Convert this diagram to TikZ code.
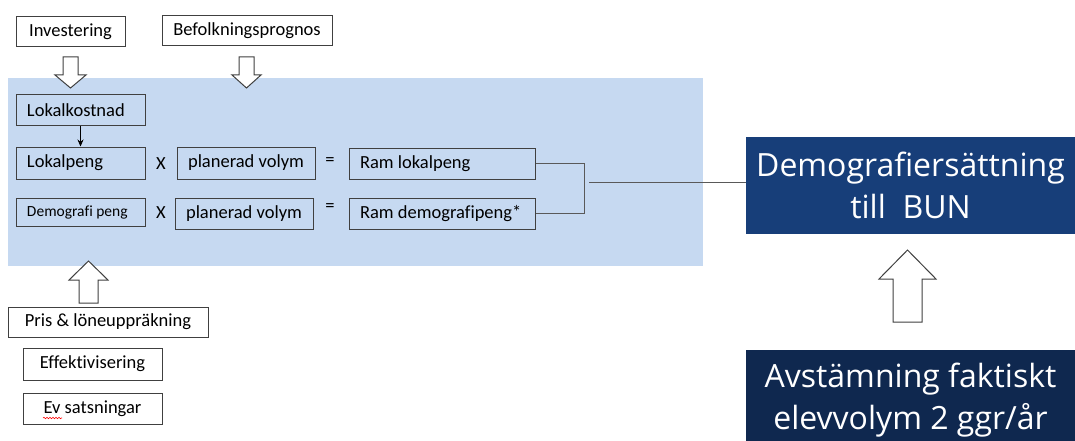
\documentclass[tikz,border=0pt]{standalone}
\usepackage{fontspec}
\setmainfont[Ligatures=NoCommon]{Carlito}
\newfontfamily\bigfont{Open Sans}
\usetikzlibrary{arrows.meta,decorations.pathmorphing}
\definecolor{bgblue}{HTML}{C6D9F1}
\definecolor{navyA}{HTML}{173E79}
\definecolor{navyB}{HTML}{0F284F}
\definecolor{edgec}{HTML}{404040}
\definecolor{linec}{HTML}{595959}
\newcommand\lefttext[2]{\makebox[#1][l]{#2}}
\begin{document}
\begin{tikzpicture}[x=1pt,y=-1pt,
  box/.style={draw=edgec, line width=1pt, inner sep=0pt, font=\fontsize{18.5}{22}\selectfont},
  lbox/.style={box, inner xsep=11pt},
  cbox/.style={box, align=center, minimum width=#1},
  op/.style={font=\fontsize{18.5}{22}\selectfont, inner sep=0pt},
  harrow/.style={draw=edgec, fill=white, line width=1pt, line join=miter},
  bigbox/.style={inner sep=0pt, text=white, align=center, font=\bigfont\fontsize{32}{42}\selectfont},
  link/.style={draw=linec, line width=1pt}]
\useasboundingbox (0,0) rectangle (1075,441);
\clip (0,0) rectangle (1075,441);
% background panel
\fill[bgblue] (8,78) rectangle (703,266);
% top inputs
\node[cbox=109, minimum height=30] (inv) at (70.5,32) {Investering};
\node[cbox=170, minimum height=30] (bef) at (247,31) {Befolkningsprognos};
\draw[harrow] (63,57) -- (78,57) -- (78,75) -- (86,75) -- (70.5,88) -- (55,75) -- (63,75) -- cycle;
\draw[harrow] (239,57) -- (254,57) -- (254,75) -- (261,75) -- (246.5,88) -- (232,75) -- (239,75) -- cycle;
% row boxes
\node[lbox, minimum height=31] (lk) at (80.5,110) {\lefttext{107pt}{Lokalkostnad}};
\node[lbox, minimum height=32] (lp) at (80.5,163) {\lefttext{107pt}{Lokalpeng}};
\node[lbox, minimum height=28, font=\fontsize{15.5}{18}\selectfont] (dp) at (80.5,212) {\lefttext{107pt}{Demografi peng}};
\node[op] (x1) at (161,164) {X};
\node[op] (x2) at (161,213) {X};
\node[cbox=138, minimum height=32] (pv1) at (246,163) {planerad volym};
\node[cbox=138, minimum height=31] (pv2) at (244,213.5) {planerad volym};
\node[op] (eq1) at (330,162) {=};
\node[op] (eq2) at (330,208) {=};
\node[lbox, minimum height=31] (rl) at (442,163.5) {\lefttext{164pt}{Ram lokalpeng}};
\node[lbox, minimum height=31] (rd) at (442,213.5) {\lefttext{164pt}{Ram demografipeng*}};
\draw[-{Stealth[length=7pt,width=6pt]}, line width=0.8pt] (lk) -- (lp);
% bracket and link
\draw[link] (rl.east) -- ++(49,0) |- (rd.east);
\coordinate (j) at (589,182);
% right boxes
\node[bigbox, fill=navyA, minimum width=329, minimum height=97] (dem) at (910.5,185.5) {Demografiersättning\\till\ \ BUN};
\node[bigbox, fill=navyB, minimum width=329, minimum height=100] (avs) at (910.5,400) {Avstämning faktiskt\\elevvolym 2 ggr/år};
\draw[link] (j) -- (j -| dem.west);
\draw[harrow] (893,322) -- (922,322) -- (922,279) -- (936,279) -- (907.5,250) -- (879,279) -- (893,279) -- cycle;
% bottom inputs
\draw[harrow] (79,303) -- (98,303) -- (98,280) -- (108,280) -- (88.5,261) -- (69,280) -- (79,280) -- cycle;
\node[cbox=200, minimum height=30] (pris) at (108,322) {Pris \& löneuppräkning};
\node[cbox=139, minimum height=32] (eff) at (92.5,364) {Effektivisering};
\node[cbox=139, minimum height=31] (ev) at (92.5,408.5) {Ev satsningar};
\draw[red, line width=0.6pt, decorate, decoration={snake, amplitude=0.7pt, segment length=3pt}] (43,418) -- (62,418);
\end{tikzpicture}
\end{document}
